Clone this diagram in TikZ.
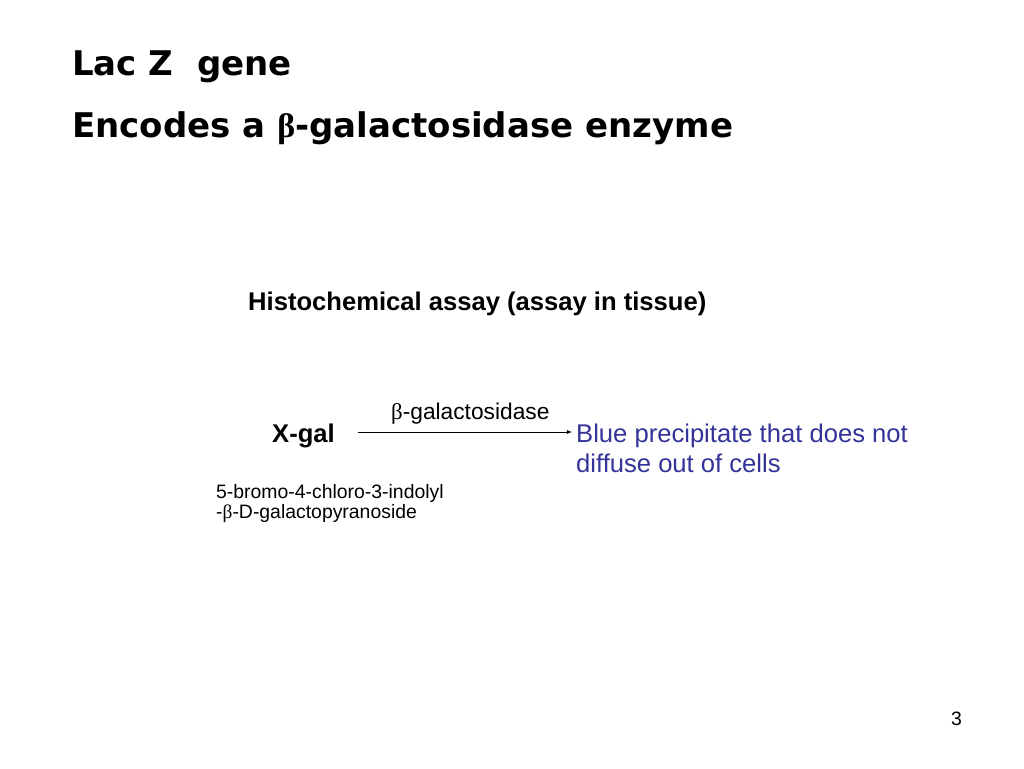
\documentclass[tikz,border=0pt]{standalone}
\usepackage{fontspec}
\usepackage{xcolor}
\setmainfont{Liberation Sans}
\newfontfamily\titlefont{DejaVu Sans}
\newfontfamily\symbfont{Liberation Serif}
\newcommand{\betasym}{{\symbfont β}}
\definecolor{slideblue}{RGB}{51,51,153}

\begin{document}
\begin{tikzpicture}[x=1pt,y=-1pt,
    txt/.style={anchor=base west,inner sep=0pt},
    title/.style={txt,font=\titlefont\bfseries\fontsize{34}{40}\selectfont},
    body/.style={txt,font=\fontsize{25.6}{30}\selectfont},
    small/.style={txt,font=\fontsize{19.4}{20}\selectfont}]
    \useasboundingbox[fill=white] (0,0) rectangle (1024,768);
    \node[title] (lacz) at (72, 75) {Lac Z\ \ gene};
    \node[title] (enc) at (72, 137) {Encodes a \betasym-galactosidase enzyme};
    \node[body,font=\bfseries\fontsize{25.6}{30}\selectfont] (assay) at (248, 310) {Histochemical assay (assay in tissue)};
    \node[body,font=\bfseries\fontsize{25.6}{30}\selectfont] (xgal) at (272, 442) {X-gal};
    \node[txt,font=\fontsize{22.75}{26}\selectfont] (enz) at (391, 419) {\betasym-galactosidase};
    % base of a two-line node is the baseline of its last line
    \node[body,text=slideblue,align=left,font=\fontsize{25.6}{30}\selectfont] (blue) at (576, 472) {Blue precipitate that does not\\diffuse out of cells};
    \node[small,align=left] (name) at (216, 518) {5-bromo-4-chloro-3-indolyl\\-\betasym-D-galactopyranoside};
    \node[small] (page) at (951, 725) {3};
    \coordinate (tail) at (358, 432);
    \coordinate (head) at (572, 432);
    \draw [-latex, line width=0.8pt] (tail) to (head);
\end{tikzpicture}
\end{document}
